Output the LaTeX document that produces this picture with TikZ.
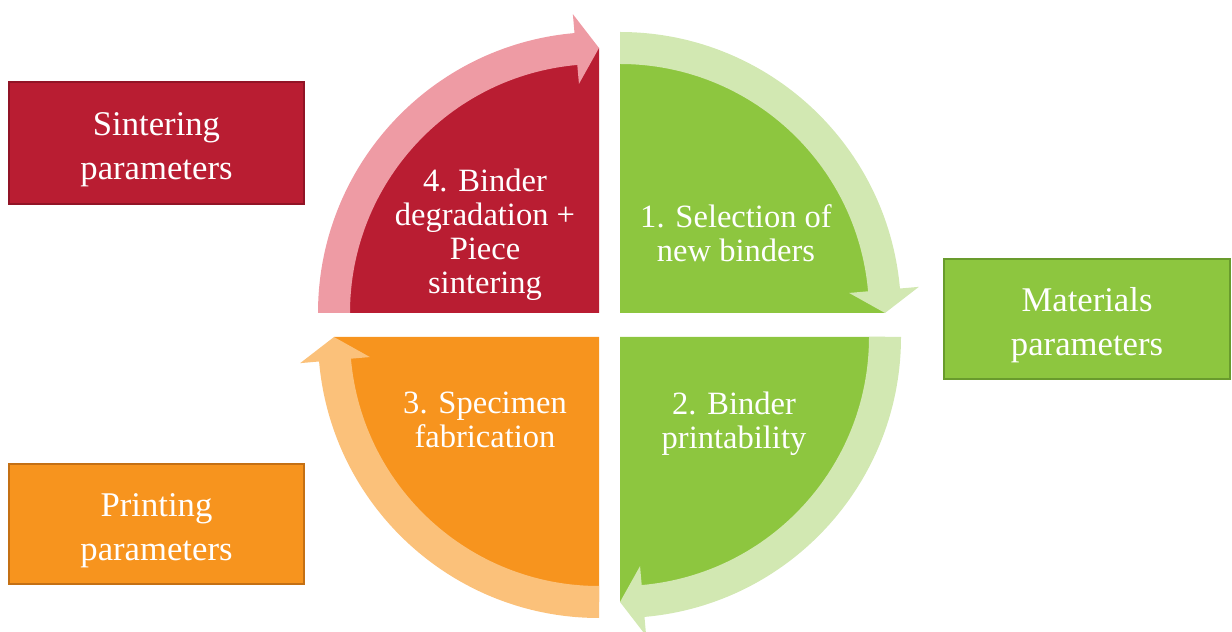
\documentclass[tikz,border=0pt]{standalone}
\usepackage{fontspec}
\setmainfont{Liberation Serif}
\definecolor{redfill}{RGB}{185,29,50}
\definecolor{redband}{RGB}{238,155,164}
\definecolor{redborder}{RGB}{145,20,38}
\definecolor{greenfill}{RGB}{141,198,63}
\definecolor{greenband}{RGB}{210,232,178}
\definecolor{greenborder}{RGB}{105,155,45}
\definecolor{orangefill}{RGB}{247,148,30}
\definecolor{orangeband}{RGB}{251,193,122}
\definecolor{orangeborder}{RGB}{196,112,20}
% #1 centre, #2 start angle, #3 end of band, #4 tip angle, #5 band colour, #6 fill colour
\newcommand\cyclequad[6]{%
  \begin{scope}[shift={#1}]
    \fill[#6] (0,0) -- (#2:265) arc[start angle=#2, end angle=#4, radius=265] -- cycle;
    \fill[#5] (#2:281) arc[start angle=#2, end angle=#3, radius=281]
      -- (#3:300) -- (#4:265) -- (#3:230) -- (#3:249)
      arc[start angle=#3, end angle=#2, radius=249] -- cycle;
  \end{scope}}
\begin{document}
\begin{tikzpicture}[x=0.75pt,y=0.75pt,
  parambox/.style={draw, line width=1.5pt, inner sep=0pt},
  boxtext/.style={text=white, align=center, inner sep=0pt,
    font=\fontsize{26}{33}\selectfont},
  quadtext/.style={text=white, align=center, inner sep=0pt,
    font=\fontsize{24.4}{25.5}\selectfont}]
\useasboundingbox (0,0) rectangle (1232,632);
% quadrants with cycle arrows
\cyclequad{(599,319)}{180}{95}{90}{redband}{redfill}
\cyclequad{(620,319)}{90}{5}{0}{greenband}{greenfill}
\cyclequad{(620,295)}{0}{-85}{-90}{greenband}{greenfill}
\cyclequad{(599,295)}{-90}{-175}{-180}{orangeband}{orangefill}
% quadrant texts
\node[quadtext] (q4) at (485,397) {4. Binder\\degradation +\\Piece\\sintering};
\node[quadtext] (q1) at (736,399) {1. Selection of\\new binders};
\node[quadtext] (q2) at (734,208) {2. Binder\\printability};
\node[quadtext] (q3) at (485,212) {3. Specimen\\fabrication};
% parameter boxes
\node[parambox, fill=redfill, draw=redborder, minimum width=221pt, minimum height=91.5pt]
  (sint) at (156.5,489) {};
\node[boxtext] (sinttext) at ([yshift=-5pt]sint.center) {Sintering\\parameters};
\node[parambox, fill=greenfill, draw=greenborder, minimum width=214pt, minimum height=90pt]
  (mat) at (1087,313) {};
\node[boxtext] (mattext) at ([yshift=-5pt]mat.center) {Materials\\parameters};
\node[parambox, fill=orangefill, draw=orangeborder, minimum width=221pt, minimum height=90pt]
  (print) at (156.5,108) {};
\node[boxtext] (printtext) at ([yshift=-5pt]print.center) {Printing\\parameters};
\end{tikzpicture}
\end{document}
